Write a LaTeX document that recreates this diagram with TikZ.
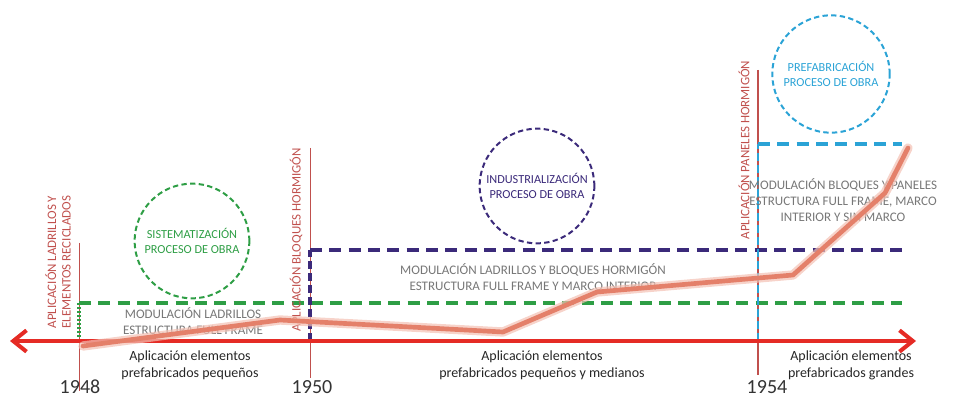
\documentclass[tikz,border=0pt]{standalone}
\usepackage{fontspec}
\setmainfont{Carlito}
\usetikzlibrary{arrows.meta}
\definecolor{axred}{HTML}{E52B25}
\definecolor{lblred}{HTML}{C0504D}
\definecolor{grn}{HTML}{2E9E45}
\definecolor{pur}{HTML}{3B2A7A}
\definecolor{blu}{HTML}{2BA3D6}
\definecolor{gry}{HTML}{777777}
\definecolor{salmon}{HTML}{E4806A}
\definecolor{salmonlt}{HTML}{F3C1B4}
\tikzset{
  vlabel/.style={rotate=90, text=lblred, font=\fontsize{9.7}{10.8}\selectfont, align=center, inner sep=0pt},
  gtext/.style={text=gry, font=\fontsize{9.8}{12}\selectfont, align=center, inner sep=0pt},
  btext/.style={text=black!85, font=\fontsize{10.5}{12.8}\selectfont, align=center, inner sep=0pt},
  year/.style={text=black!80, font=\fontsize{15}{16}\selectfont, inner sep=0pt},
  circ/.style={circle, draw, dashed, line width=1.5pt, dash pattern=on 4pt off 2.5pt, inner sep=0pt, font=\fontsize{9.2}{11.5}\selectfont, align=center},
  hdash/.style={line width=2.6pt, dash pattern=on 9pt off 5.5pt},
  timeline/.style={line width=0.6pt, draw=lblred},
}
\begin{document}
\begin{tikzpicture}[x=0.75pt,y=-0.75pt]
\useasboundingbox (0,0) rectangle (954,399);
% coordinates
\coordinate (axL) at (10,341);
\coordinate (axR) at (916,341);
\coordinate (t1a) at (79,243); \coordinate (t1b) at (79,391);
\coordinate (t2a) at (310,148); \coordinate (t2b) at (310,378);
\coordinate (t3a) at (758,70); \coordinate (t3b) at (758,375);
\coordinate (g0) at (79,341); \coordinate (g1) at (79,303); \coordinate (g2) at (902,303);
\coordinate (p0) at (310,341); \coordinate (p1) at (310,250); \coordinate (p2) at (902,250);
\coordinate (b0) at (758,341); \coordinate (b1) at (758,144); \coordinate (b2) at (902,144);

% vertical time lines
\draw[timeline] (t1a) -- (t1b);
\draw[timeline] (t2a) -- (t2b);
\draw[timeline, line width=1.4pt] (t3a) -- (t3b);

% dashed levels
\draw[grn, hdash] (g1) -- (g2);
\draw[grn, line width=2.6pt, dash pattern=on 1.5pt off 1.5pt] (g0) -- (g1);
\draw[pur, hdash] (p1) -- (p2);
\draw[pur, line width=2.6pt, dash pattern=on 6pt off 3pt] (p0) -- (p1);
\draw[blu, hdash] (b1) -- (b2);
\draw[blu, line width=2.2pt, dash pattern=on 6pt off 3pt] (b0) -- (b1);

% axis
\draw[axred, line width=2.6pt, {Straight Barb[length=10pt,width=16pt,line width=3pt]}-{Straight Barb[length=10pt,width=16pt,line width=3pt]}] (axL) -- (axR);

% vertical labels
\node[vlabel] (l1) at (58,262) {APLICACIÓN LADRILLOS Y\\ELEMENTOS RECICLADOS};
\node[vlabel] (l2) at (296,240) {APLICACIÓN BLOQUES HORMIGÓN};
\node[vlabel] (l3) at (744,150) {APLICACIÓN PANELES HORMIGÓN};

% circles
\node[circ, draw=grn, text=grn, minimum size=86pt] (c1) at (192,241) {SISTEMATIZACIÓN\\PROCESO DE OBRA};
\node[circ, draw=pur, text=pur, minimum size=86pt] (c2) at (537,186) {INDUSTRIALIZACIÓN\\PROCESO DE OBRA};
\node[circ, draw=blu, text=blu, minimum size=88pt] (c3) at (831,74) {PREFABRICACIÓN\\PROCESO DE OBRA};

% gray texts
\node[gtext] (m1) at (193,321) {MODULACIÓN LADRILLOS\\ESTRUCTURA FULL FRAME};
\node[gtext] (m2) at (533,277) {MODULACIÓN LADRILLOS Y BLOQUES HORMIGÓN\\ESTRUCTURA FULL FRAME Y MARCO INTERIOR};
\node[gtext] (m3) at (843,200) {MODULACIÓN BLOQUES Y PANELES\\ESTRUCTURA FULL FRAME, MARCO\\INTERIOR Y SIN MARCO};

% bottom texts
\node[btext] (a1) at (190,365) {Aplicación elementos\\prefabricados pequeños};
\node[btext] (a2) at (542,365) {Aplicación elementos\\prefabricados pequeños y medianos};
\node[btext] (a3) at (851,365) {Aplicación elementos\\prefabricados grandes};

% years
\node[year] (y1) at (80,387) {1948};
\node[year] (y2) at (312,387) {1950};
\node[year] (y3) at (767,387) {1954};

% growth curve
\coordinate (o1) at (83,346); \coordinate (o2) at (280,320); \coordinate (o3) at (503,332);
\coordinate (o4) at (597,292); \coordinate (o5) at (793,275); \coordinate (o6) at (885,193);
\coordinate (o7) at (908,148);
\draw[salmonlt, opacity=0.7, line width=7pt, line join=round, line cap=round] (o1) -- (o2) -- (o3) -- (o4) -- (o5) -- (o6) -- (o7);
\draw[salmon, line width=3.5pt, line join=round, line cap=round] (o1) -- (o2) -- (o3) -- (o4) -- (o5) -- (o6) -- (o7);
\end{tikzpicture}
\end{document}
